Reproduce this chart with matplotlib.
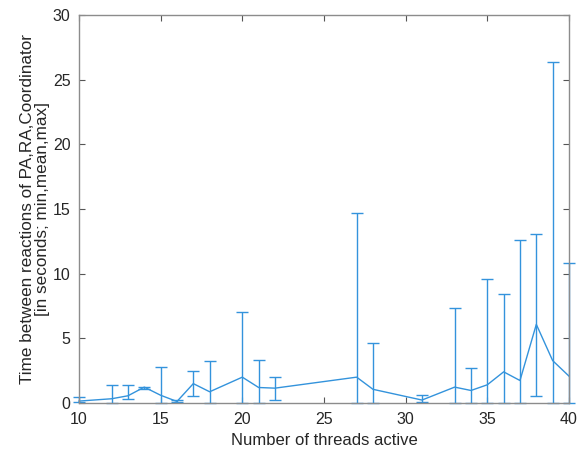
import numpy as np
import matplotlib.pyplot as plt

plt.rcParams['font.family'] = ['Liberation Sans', 'DejaVu Sans']

# data: threads active vs time between reactions
threads = [10, 12, 13, 14, 15, 16, 17, 18, 20, 21, 22, 27, 28, 31, 33, 34, 35, 36, 37, 38, 39, 40]
t_mean = [0.15, 0.33, 0.56, 1.23, 0.6, 0.12, 1.5, 0.87, 2.0, 1.2, 1.15, 2.0, 1.06, 0.23,
          1.23, 0.97, 1.41, 2.41, 1.74, 6.08, 3.28, 2.08]
t_min = [0.05, 0.0, 0.28, 1.12, 0.0, 0.05, 0.56, 0.0, 0.0, 0.0, 0.26, 0.0, 0.0, 0.1,
         0.0, 0.0, 0.0, 0.0, 0.0, 0.56, 0.0, 0.0]
t_max = [0.45, 1.38, 1.38, 1.25, 2.82, 0.2, 2.5, 3.23, 7.02, 3.36, 2.03, 14.67, 4.67, 0.62,
         7.33, 2.72, 9.6, 8.44, 12.64, 13.1, 26.36, 10.82]

mean = np.array(t_mean)
lower = mean - np.array(t_min)
upper = np.array(t_max) - mean

fig = plt.figure(figsize=(5.79, 4.49), dpi=100)
ax = fig.add_axes([0.1364, 0.1024, 0.8463, 0.8642])

blue = '#3393dc'
ax.errorbar(threads, t_mean, yerr=[lower, upper], color=blue, lw=1.0,
            elinewidth=1.0, capsize=4, capthick=1.0, clip_on=False)

ax.set_xlim(10, 40)
ax.set_ylim(0, 30)
ax.set_xticks(range(10, 41, 5))
ax.set_yticks(range(0, 31, 5))

grey = '#262626'
for s in ax.spines.values():
    s.set_color('#8c8c8c')
    s.set_linewidth(1.0)
ax.tick_params(direction='in', top=True, right=True, length=4, width=0.8,
               color='#555555', labelcolor=grey, labelsize=11.5)
ax.tick_params(axis='x', pad=6.5)
ax.tick_params(axis='y', pad=6)

ax.set_xlabel('Number of threads active', fontsize=12, color=grey, labelpad=4)
ax.set_ylabel('Time between reactions of PA,RA,Coordinator\n[in seconds; min,mean,max]',
              fontsize=12.3, color=grey, labelpad=2, linespacing=1.0)

fig.savefig('out.png', dpi=100)
